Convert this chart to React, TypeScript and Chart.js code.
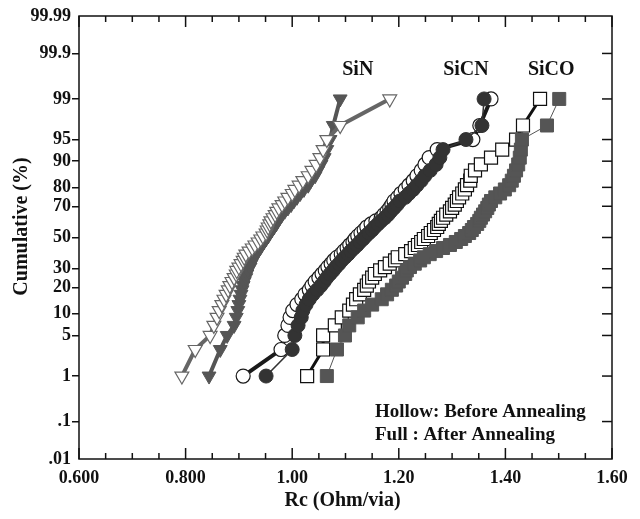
import React, { useEffect, useRef } from 'react';
import { Chart, registerables } from 'chart.js';

Chart.register(...registerables);

// Cumulative probability (%) of each ranked sample
const cumulativePct = [
  1, 3, 5, 7, 9, 11, 13, 15, 17, 19,
  21, 23, 25, 27, 29, 31, 33, 35, 37, 39,
  41, 43, 45, 47, 49, 51, 53, 55, 57, 59,
  61, 63, 65, 67, 69, 71, 73, 75, 77, 79,
  81, 83, 85, 87, 89, 91, 93, 95, 97, 99,
];

// Rc (Ohm/via) per ranked sample
const sinBefore = [
  0.793, 0.818, 0.846, 0.853, 0.859, 0.863, 0.868, 0.872, 0.876, 0.880,
  0.883, 0.887, 0.891, 0.895, 0.896, 0.900, 0.904, 0.908, 0.910, 0.913,
  0.919, 0.925, 0.930, 0.936, 0.941, 0.945, 0.951, 0.953, 0.955, 0.958,
  0.960, 0.964, 0.968, 0.971, 0.975, 0.981, 0.986, 0.992, 1.000, 1.005,
  1.013, 1.020, 1.030, 1.037, 1.045, 1.052, 1.058, 1.065, 1.090, 1.183,
];
const sinAfter = [
  0.844, 0.865, 0.878, 0.891, 0.895, 0.898, 0.900, 0.902, 0.904, 0.906,
  0.908, 0.910, 0.913, 0.915, 0.917, 0.921, 0.923, 0.926, 0.928, 0.932,
  0.936, 0.940, 0.943, 0.947, 0.951, 0.955, 0.958, 0.962, 0.966, 0.970,
  0.973, 0.977, 0.981, 0.986, 0.992, 0.998, 1.003, 1.009, 1.015, 1.022,
  1.030, 1.035, 1.043, 1.048, 1.054, 1.060, 1.065, 1.071, 1.077, 1.090,
];
const sicnBefore = [
  0.908, 0.979, 0.986, 0.992, 0.996, 1.001, 1.009, 1.018, 1.024, 1.032,
  1.037, 1.043, 1.050, 1.056, 1.062, 1.067, 1.073, 1.078, 1.084, 1.092,
  1.097, 1.103, 1.108, 1.114, 1.118, 1.123, 1.129, 1.135, 1.140, 1.148,
  1.157, 1.167, 1.172, 1.178, 1.183, 1.187, 1.191, 1.198, 1.204, 1.212,
  1.219, 1.227, 1.234, 1.242, 1.249, 1.257, 1.272, 1.339, 1.352, 1.373,
];
const sicnAfter = [
  0.951, 1.000, 1.005, 1.011, 1.017, 1.020, 1.026, 1.032, 1.039, 1.047,
  1.054, 1.060, 1.065, 1.071, 1.077, 1.082, 1.088, 1.093, 1.099, 1.105,
  1.110, 1.116, 1.122, 1.127, 1.133, 1.138, 1.144, 1.150, 1.155, 1.161,
  1.167, 1.174, 1.180, 1.185, 1.191, 1.197, 1.202, 1.212, 1.219, 1.227,
  1.234, 1.242, 1.249, 1.259, 1.270, 1.277, 1.283, 1.326, 1.356, 1.360,
];
const sicoBefore = [
  1.028, 1.058, 1.058, 1.080, 1.093, 1.107, 1.114, 1.120, 1.127, 1.135,
  1.140, 1.144, 1.150, 1.155, 1.165, 1.174, 1.183, 1.193, 1.198, 1.212,
  1.223, 1.230, 1.236, 1.242, 1.247, 1.255, 1.260, 1.266, 1.272, 1.275,
  1.279, 1.283, 1.289, 1.296, 1.300, 1.305, 1.309, 1.313, 1.319, 1.324,
  1.328, 1.334, 1.335, 1.343, 1.354, 1.373, 1.394, 1.420, 1.433, 1.465,
];
const sicoAfter = [
  1.065, 1.084, 1.099, 1.107, 1.123, 1.135, 1.150, 1.168, 1.178, 1.187,
  1.195, 1.200, 1.206, 1.212, 1.215, 1.221, 1.230, 1.240, 1.247, 1.258,
  1.270, 1.283, 1.296, 1.307, 1.317, 1.324, 1.332, 1.337, 1.341, 1.347,
  1.351, 1.354, 1.358, 1.362, 1.366, 1.369, 1.373, 1.381, 1.390, 1.399,
  1.407, 1.412, 1.416, 1.420, 1.424, 1.427, 1.429, 1.431, 1.478, 1.501,
];

// Axis ticks
const yTickPct = [0.01, 0.1, 1, 5, 10, 20, 30, 50, 70, 80, 90, 95, 99, 99.9, 99.99];
const yTickLabels = ['.01', '.1', '1', '5', '10', '20', '30', '50', '70', '80', '90', '95', '99', '99.9', '99.99'];
const xTickValues = [0.6, 0.8, 1.0, 1.2, 1.4, 1.6];
const xTickLabels = ['0.600', '0.800', '1.00', '1.20', '1.40', '1.60'];
const xMinorStep = 0.05;

// Text annotations
const seriesNames = ['SiN', 'SiCN', 'SiCO'];
const seriesNameX = [1.123, 1.326, 1.486];
const seriesNamePct = 99.75;
const noteLines = ['Hollow: Before Annealing', 'Full : After Annealing'];

const FONT = '"Liberation Serif", "Times New Roman", serif';

// inverse standard normal CDF (probability-paper transform)
function probit(p: number): number {
  const a = [-3.969683028665376e1, 2.209460984245205e2, -2.759285104469687e2, 1.38357751867269e2, -3.066479806614716e1, 2.506628277459239];
  const b = [-5.447609879822406e1, 1.615858368580409e2, -1.556989798598866e2, 6.680131188771972e1, -1.328068155288572e1];
  const c = [-7.784894002430293e-3, -3.223964580411365e-1, -2.400758277161838, -2.549671348400142, 4.374664141464968, 2.938163982698783];
  const d = [7.784695709041462e-3, 3.224671290700398e-1, 2.445134137142996, 3.754408661907416];
  const plow = 0.02425;
  if (p < plow) {
    const q = Math.sqrt(-2 * Math.log(p));
    return (((((c[0] * q + c[1]) * q + c[2]) * q + c[3]) * q + c[4]) * q + c[5]) / ((((d[0] * q + d[1]) * q + d[2]) * q + d[3]) * q + 1);
  }
  if (p > 1 - plow) {
    const q = Math.sqrt(-2 * Math.log(1 - p));
    return -(((((c[0] * q + c[1]) * q + c[2]) * q + c[3]) * q + c[4]) * q + c[5]) / ((((d[0] * q + d[1]) * q + d[2]) * q + d[3]) * q + 1);
  }
  const q = p - 0.5;
  const r = q * q;
  return ((((((a[0] * r + a[1]) * r + a[2]) * r + a[3]) * r + a[4]) * r + a[5]) * q) / (((((b[0] * r + b[1]) * r + b[2]) * r + b[3]) * r + b[4]) * r + 1);
}

function toPoints(xs: number[]) {
  return xs.map((v, i) => ({ x: v, y: probit(cumulativePct[i] / 100) }));
}

const decorPlugin = {
  id: 'decor',
  afterDatasetsDraw(chart: any) {
    const { ctx, scales } = chart;
    const xs = scales.x;
    const ys = scales.y;
    const xMin = xTickValues[0];
    const xMax = xTickValues[xTickValues.length - 1];
    const L = xs.getPixelForValue(xMin);
    const R = xs.getPixelForValue(xMax);
    const T = ys.getPixelForValue(ys.max);
    const B = ys.getPixelForValue(ys.min);
    const line = (x1: number, y1: number, x2: number, y2: number) => {
      ctx.beginPath();
      ctx.moveTo(x1, y1);
      ctx.lineTo(x2, y2);
      ctx.stroke();
    };
    ctx.save();
    ctx.strokeStyle = '#111';
    ctx.lineWidth = 1.5;
    ctx.strokeRect(L, T, R - L, B - T);
    const n = Math.round((xMax - xMin) / xMinorStep);
    for (let i = 0; i <= n; i++) {
      const px = xs.getPixelForValue(xMin + i * xMinorStep);
      const len = i % 4 === 0 ? 11 : 6;
      line(px, B, px, B - len);
      line(px, T, px, T + len);
    }
    yTickPct.slice(1, -1).forEach((p) => {
      const py = ys.getPixelForValue(probit(p / 100));
      line(R - 10, py, R, py);
    });

    ctx.fillStyle = '#111';
    ctx.font = 'bold 20px ' + FONT;
    ctx.textAlign = 'center';
    ctx.textBaseline = 'middle';
    const nameY = ys.getPixelForValue(probit(seriesNamePct / 100));
    seriesNames.forEach((s, i) => {
      ctx.fillText(s, xs.getPixelForValue(seriesNameX[i]), nameY);
    });

    ctx.font = 'bold 19px ' + FONT;
    ctx.textAlign = 'left';
    ctx.textBaseline = 'alphabetic';
    ctx.fillText(noteLines[0], L + 296, B - 42);
    ctx.fillText(noteLines[1], L + 296, B - 19);

    ctx.font = 'bold 20px ' + FONT;
    ctx.textAlign = 'center';
    ctx.textBaseline = 'middle';
    ctx.fillText('Rc (Ohm/via)', (L + R) / 2 - 3, B + 42);
    ctx.translate(L - 57, (T + B) / 2 - 11);
    ctx.rotate(-Math.PI / 2);
    ctx.fillText('Cumulative (%)', 0, 0);
    ctx.restore();
  },
};

export default function App() {
  const ref = useRef<HTMLCanvasElement | null>(null);
  useEffect(() => {
    if (!ref.current) return;
    const common = { showLine: true, tension: 0, clip: false as any };
    const chart = new Chart(ref.current, {
      type: 'scatter',
      data: {
        datasets: [
          {
            ...common, label: 'SiN before', data: toPoints(sinBefore), order: 1,
            borderColor: '#666', borderWidth: 4,
            pointStyle: 'triangle', rotation: 180, pointRadius: 8,
            pointBackgroundColor: '#fff', pointBorderColor: '#666', pointBorderWidth: 1.2,
          },
          {
            ...common, label: 'SiN after', data: toPoints(sinAfter), order: 2,
            borderColor: '#555', borderWidth: 4,
            pointStyle: 'triangle', rotation: 180, pointRadius: 8,
            pointBackgroundColor: '#555', pointBorderColor: '#555', pointBorderWidth: 1,
          },
          {
            ...common, label: 'SiCN before', data: toPoints(sicnBefore), order: 4,
            borderColor: '#1a1a1a', borderWidth: 4,
            pointStyle: 'circle', pointRadius: 7,
            pointBackgroundColor: '#fff', pointBorderColor: '#1a1a1a', pointBorderWidth: 1.2,
          },
          {
            ...common, label: 'SiCN after', data: toPoints(sicnAfter), order: 3,
            borderColor: '#333', borderWidth: 1.5,
            pointStyle: 'circle', pointRadius: 7,
            pointBackgroundColor: '#333', pointBorderColor: '#333', pointBorderWidth: 1,
          },
          {
            ...common, label: 'SiCO before', data: toPoints(sicoBefore), order: 6,
            borderColor: '#111', borderWidth: 3,
            pointStyle: 'rect', pointRadius: 9.2,
            pointBackgroundColor: '#fff', pointBorderColor: '#111', pointBorderWidth: 1.2,
          },
          {
            ...common, label: 'SiCO after', data: toPoints(sicoAfter), order: 5,
            borderColor: '#555', borderWidth: 1,
            pointStyle: 'rect', pointRadius: 9.2,
            pointBackgroundColor: '#555', pointBorderColor: '#555', pointBorderWidth: 1,
          },
        ] as any,
      },
      options: {
        responsive: false,
        animation: false,
        events: [],
        layout: { padding: { top: 16, right: 28, left: 0, bottom: 0 } },
        plugins: { legend: { display: false }, tooltip: { enabled: false } },
        scales: {
          x: {
            type: 'linear',
            min: xTickValues[0],
            max: xTickValues[xTickValues.length - 1],
            afterBuildTicks: (s: any) => { s.ticks = xTickValues.map((v) => ({ value: v })); },
            afterFit: (s: any) => { s.height = 60; },
            grid: { display: false, drawTicks: false },
            border: { display: false },
            ticks: {
              padding: 9,
              color: '#111',
              font: { family: FONT, size: 18, weight: 'bold' },
              callback: (_v: any, i: number) => xTickLabels[i],
            },
          },
          y: {
            type: 'linear',
            min: probit(yTickPct[0] / 100),
            max: probit(yTickPct[yTickPct.length - 1] / 100),
            afterBuildTicks: (s: any) => { s.ticks = yTickPct.map((p) => ({ value: probit(p / 100) })); },
            afterFit: (s: any) => { s.width = 79; },
            grid: {
              display: true,
              drawOnChartArea: false,
              drawTicks: true,
              tickLength: 7,
              lineWidth: 1.5,
              color: (c: any) => (c.index === 0 || c.index === yTickPct.length - 1 ? 'rgba(0,0,0,0)' : '#111'),
            },
            border: { display: false },
            ticks: {
              padding: 1,
              color: '#111',
              font: { family: FONT, size: 18, weight: 'bold' },
              callback: (_v: any, i: number) => yTickLabels[i],
            },
          },
        },
      },
      plugins: [decorPlugin],
    });
    return () => chart.destroy();
  }, []);
  return (
    <div style={{ position: 'fixed', left: 0, top: 0, width: 640, height: 519, background: '#fff' }}>
      <canvas ref={ref} width={640} height={519} />
    </div>
  );
}
